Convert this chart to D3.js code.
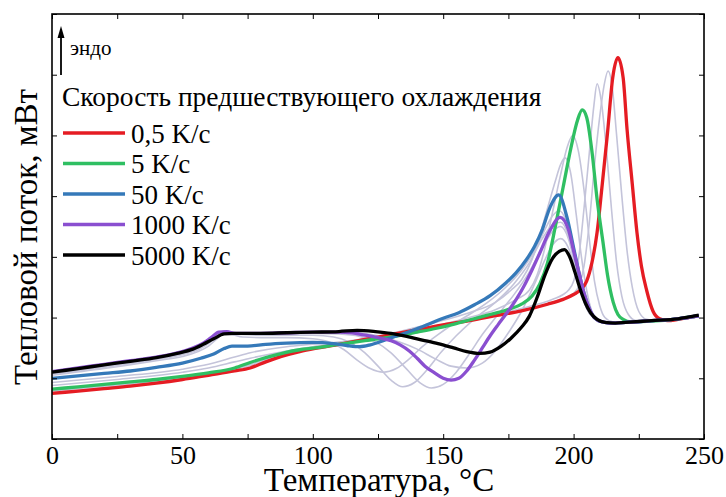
<!DOCTYPE html>
<html><head><meta charset="utf-8">
<script src="https://cdn.jsdelivr.net/npm/d3@7"></script>
<style>body{margin:0;background:#fff;} svg{display:block;}</style>
</head><body>
<svg id="c" width="726" height="497" font-family="Liberation Serif"></svg>
<script>
// ---- data (temperature °C, heat flow in arbitrary units) ----
const xTicks = [0, 50, 100, 150, 200, 250];
const xMinorTicks = [25, 75, 125, 175, 225];
const yTicks = [0, 1, 2, 3, 4, 5, 6, 7];
const legendTitle = "Скорость предшествующего охлаждения";
const seriesNames = ["0,5 K/c", "5 K/c", "50 K/c", "1000 K/c", "5000 K/c"];
const seriesColors = ["#e51c23", "#2fbf62", "#3579b9", "#8a4fd0", "#000000"];

const red = [[0,0.75],[10,0.79],[20,0.83],[30,0.87],[40,0.92],[50,0.98],[60,1.05],[70,1.12],[76,1.17],[82,1.27],[88,1.36],[95,1.44],[102,1.5],[110,1.56],[120,1.64],[130,1.72],[140,1.8],[150,1.88],[160,1.95],[170,2.03],[180,2.11],[190,2.22],[196,2.3],[200,2.38],[203,2.47],[205,2.6],[207,2.9],[209,3.4],[211,4.2],[213,5.04],[215,5.95],[217,6.28],[219,5.95],[220.5,5.1],[222.5,4.2],[224.3,3.4],[226,2.85],[228,2.45],[230.5,2.1],[233,1.98],[236,1.95],[240,1.97],[244,2.0],[248,2.03]];
const green = [[0,0.82],[10,0.86],[20,0.9],[30,0.94],[40,0.98],[50,1.03],[60,1.09],[70,1.17],[76,1.26],[82,1.34],[89,1.42],[95,1.47],[101,1.5],[110,1.56],[120,1.62],[127,1.66],[134,1.71],[140,1.76],[147,1.82],[153,1.88],[160,1.96],[167,2.04],[174,2.12],[180,2.22],[184,2.35],[187,2.55],[190,2.9],[193,3.5],[196,4.15],[199,4.8],[201.5,5.25],[203.3,5.42],[205,5.3],[207,4.75],[209,3.95],[211.4,3.2],[213,2.7],[215.2,2.25],[217,2.05],[219,1.97],[222,1.93],[230,1.94],[240,1.98],[248,2.03]];
const blue = [[0,1.0],[10,1.04],[20,1.08],[30,1.12],[40,1.18],[50,1.25],[57,1.33],[62,1.4],[66,1.49],[69,1.53],[75,1.53],[82,1.56],[90,1.58],[100,1.59],[108,1.57],[113,1.54],[118,1.52],[122,1.55],[127,1.62],[133,1.71],[142,1.85],[150,1.99],[156,2.08],[162,2.21],[168,2.36],[174,2.57],[178,2.74],[182,2.96],[185,3.17],[188,3.45],[191,3.82],[194.3,4.02],[197.4,3.66],[200,3.15],[202,2.75],[204,2.4],[206,2.15],[208,2.0],[211,1.93],[215,1.91],[220,1.92],[230,1.95],[240,1.98],[248,2.03]];
const purple = [[0,1.11],[10,1.17],[20,1.23],[30,1.29],[40,1.35],[48,1.42],[54,1.5],[58,1.58],[61,1.67],[64,1.76],[67,1.77],[70,1.74],[80,1.74],[90,1.75],[100,1.76],[110,1.76],[115,1.75],[120,1.71],[125,1.67],[130,1.62],[133.5,1.55],[137,1.45],[140,1.33],[143,1.2],[146.3,1.1],[150,1.0],[153,0.97],[156,1.0],[159,1.12],[162,1.3],[165,1.5],[168,1.7],[171,1.88],[174.3,2.07],[178,2.3],[181,2.52],[184,2.78],[187,3.06],[191,3.44],[194.8,3.65],[198,3.45],[200,3.1],[202,2.75],[204,2.4],[206,2.15],[208,2.0],[211,1.93],[215,1.91],[220,1.92],[230,1.95],[240,1.98],[248,2.03]];
const black = [[0,1.1],[10,1.16],[20,1.22],[30,1.28],[40,1.34],[48,1.41],[54,1.48],[58,1.56],[62,1.65],[66,1.73],[70,1.74],[80,1.74],[90,1.75],[100,1.76],[110,1.77],[117,1.79],[124,1.77],[130,1.74],[136,1.69],[142,1.63],[148,1.57],[154,1.5],[159,1.44],[164,1.41],[168,1.43],[172,1.52],[176,1.66],[180,1.84],[183,2.02],[186,2.33],[189,2.7],[192,2.98],[194.5,3.09],[196.5,3.12],[198.5,3.0],[200.5,2.75],[202.5,2.47],[204.5,2.24],[206.5,2.08],[209,1.97],[212,1.92],[216,1.91],[220,1.92],[230,1.95],[240,1.98],[248,2.04]];

// intermediate cooling rates (grey)
const grey1 = [[0,0.77],[25,0.87],[50,1.0],[70,1.14],[80,1.26],[90,1.39],[102,1.51],[120,1.65],[140,1.81],[160,1.96],[180,2.12],[195,2.3],[200,2.4],[202,2.52],[204,2.85],[206,3.55],[208,4.5],[210,5.3],[211.8,5.85],[213.2,6.06],[214.8,5.8],[216.5,5.0],[218.5,4.0],[220.5,3.1],[222.5,2.5],[225,2.1],[228,1.97],[232,1.95],[240,1.97],[248,2.03]];
const grey2 = [[0,0.79],[25,0.89],[50,1.01],[70,1.15],[80,1.28],[90,1.4],[102,1.51],[120,1.64],[140,1.79],[160,1.96],[180,2.15],[192,2.3],[196,2.38],[198,2.45],[200,2.6],[202,3.0],[204,3.8],[206,4.7],[207.8,5.5],[209,5.85],[210.5,5.6],[212.5,4.8],[214.5,3.8],[216.5,2.9],[218.5,2.35],[221,2.05],[224,1.95],[232,1.95],[240,1.97],[248,2.03]];
const grey3 = [[0,0.88],[25,0.98],[50,1.1],[60,1.17],[70,1.27],[76,1.33],[90,1.45],[100,1.52],[115,1.6],[130,1.7],[145,1.84],[160,2.0],[170,2.13],[178,2.3],[183,2.45],[186,2.7],[189,3.15],[192,3.75],[195,4.35],[197.5,4.8],[199.6,5.0],[201.8,4.75],[204,4.1],[206,3.3],[208,2.6],[210,2.2],[212,2.0],[215,1.93],[220,1.92],[230,1.95],[240,1.98],[248,2.03]];
const grey4 = [[0,0.93],[25,1.03],[50,1.15],[60,1.23],[70,1.35],[76,1.42],[90,1.52],[100,1.56],[115,1.62],[130,1.74],[145,1.9],[160,2.08],[170,2.25],[176,2.45],[180,2.62],[184,2.95],[187,3.35],[190,3.8],[193,4.25],[195,4.52],[196.7,4.63],[199,4.35],[201,3.7],[203,3.0],[205,2.45],[207,2.1],[209.5,1.95],[215,1.91],[220,1.92],[230,1.95],[240,1.98],[248,2.03]];
const grey5 = [[0,1.05],[20,1.16],[40,1.29],[50,1.36],[56,1.44],[60,1.53],[63,1.64],[66,1.73],[69,1.72],[73,1.68],[80,1.67],[90,1.67],[100,1.65],[106,1.6],[112,1.47],[117,1.3],[122,1.16],[127,1.1],[132,1.16],[137,1.32],[142,1.52],[148,1.72],[153,1.87],[160,2.05],[167,2.25],[174,2.5],[180,2.78],[185,3.1],[189,3.45],[192,3.68],[194.5,3.76],[197,3.6],[199.5,3.15],[201.5,2.7],[203.5,2.35],[205.5,2.12],[208,1.98],[211,1.92],[220,1.92],[230,1.95],[240,1.98],[248,2.03]];
const grey6 = [[0,1.07],[20,1.18],[40,1.31],[50,1.39],[56,1.47],[60,1.57],[63,1.68],[66,1.77],[69,1.75],[73,1.72],[80,1.71],[90,1.71],[100,1.71],[108,1.68],[114,1.6],[120,1.42],[125,1.2],[130,0.97],[134.5,0.86],[139,0.93],[144,1.15],[149,1.42],[155,1.7],[162,1.98],[170,2.25],[177,2.55],[183,2.9],[188,3.3],[192,3.53],[195,3.57],[198,3.35],[200.5,2.9],[202.5,2.5],[205,2.15],[208,1.98],[211,1.92],[220,1.92],[230,1.95],[240,1.98],[248,2.03]];
const grey7 = [[0,1.09],[20,1.2],[40,1.33],[50,1.41],[56,1.5],[60,1.6],[63,1.7],[66,1.78],[69,1.76],[73,1.74],[80,1.73],[90,1.73],[100,1.74],[110,1.73],[118,1.69],[124,1.6],[130,1.42],[136,1.15],[141,0.93],[145.5,0.84],[150,0.9],[155,1.1],[160,1.4],[165,1.72],[171,2.05],[177,2.37],[183,2.75],[188,3.15],[192,3.42],[195,3.5],[198,3.3],[200.5,2.88],[202.5,2.5],[205,2.15],[208,1.98],[211,1.92],[220,1.92],[230,1.95],[240,1.98],[248,2.03]];
const grey8 = [[0,1.1],[20,1.22],[40,1.34],[50,1.42],[56,1.5],[60,1.6],[63,1.69],[66,1.76],[70,1.75],[80,1.75],[100,1.75],[115,1.75],[125,1.7],[133,1.6],[140,1.48],[147,1.32],[153,1.2],[159,1.17],[165,1.25],[170,1.45],[175,1.75],[180,2.1],[185,2.55],[189,2.95],[192,3.2],[195,3.3],[198,3.15],[200.5,2.8],[203,2.4],[205.5,2.12],[208,1.98],[211,1.92],[220,1.92],[230,1.95],[240,1.98],[248,2.03]];

const greySeries = [grey1, grey2, grey3, grey4, grey5, grey6, grey7, grey8];
const mainSeries = [red, green, blue, purple, black];

// ---- layout ----
const FONT = "Liberation Serif";
const W = 726, H = 497;
const m = {l: 52, t: 14, r: 22, b: 58};
const svg = d3.select("#c");
const x = d3.scaleLinear().domain([0, 250]).range([m.l, W - m.r]);
const y = d3.scaleLinear().domain([0, 7]).range([H - m.b, m.t]);

svg.append("defs").append("clipPath").attr("id", "clip")
  .append("rect").attr("x", m.l).attr("y", m.t).attr("width", W - m.l - m.r).attr("height", H - m.t - m.b);

const line = d3.line().x(d => x(d[0])).y(d => y(d[1])).curve(d3.curveMonotoneX);
const plot = svg.append("g").attr("clip-path", "url(#clip)");
plot.selectAll("path.grey").data(greySeries).join("path").attr("class", "grey")
  .attr("d", line).attr("fill", "none").attr("stroke", "#c4c4da").attr("stroke-width", 1.6);
plot.selectAll("path.main").data(mainSeries).join("path").attr("class", "main")
  .attr("d", line).attr("fill", "none").attr("stroke", (d, i) => seriesColors[i]).attr("stroke-width", 3.3)
  .attr("stroke-linejoin", "round");

// ---- axes ----
const allX = xTicks.concat(xMinorTicks);
const gb = svg.append("g").attr("transform", `translate(0,${H - m.b})`)
  .call(d3.axisBottom(x).tickValues(allX).tickSize(-5).tickPadding(7).tickFormat(d => xTicks.includes(d) ? d : ""));
const gt = svg.append("g").attr("transform", `translate(0,${m.t})`)
  .call(d3.axisTop(x).tickValues(allX).tickSize(-5).tickFormat(""));
const gl = svg.append("g").attr("transform", `translate(${m.l},0)`)
  .call(d3.axisLeft(y).tickValues(yTicks).tickSize(-5).tickFormat(""));
const gr = svg.append("g").attr("transform", `translate(${W - m.r},0)`)
  .call(d3.axisRight(y).tickValues(yTicks).tickSize(-5).tickFormat(""));
[gb, gt, gl, gr].forEach(g => {
  g.attr("font-family", FONT);
  g.select(".domain").remove();
  g.selectAll(".tick line").attr("stroke", "#000").attr("stroke-width", 1);
});
gb.selectAll(".tick text").attr("font-size", 26).attr("font-family", FONT).attr("fill", "#000").attr("dy", "0.71em");
svg.append("rect").attr("x", m.l).attr("y", m.t).attr("width", W - m.l - m.r).attr("height", H - m.t - m.b)
  .attr("fill", "none").attr("stroke", "#000").attr("stroke-width", 1.6);

// axis titles
svg.append("text").attr("x", (m.l + W - m.r) / 2 + 1).attr("y", 491).attr("text-anchor", "middle")
  .attr("font-family", FONT).attr("font-size", 33).text("Температура, °C");
svg.append("text").attr("transform", "translate(37,237) rotate(-90)").attr("text-anchor", "middle")
  .attr("font-family", FONT).attr("font-size", 33).text("Тепловой поток, мВт");

// endo arrow
svg.append("line").attr("x1", 61).attr("x2", 61).attr("y1", 75).attr("y2", 36).attr("stroke", "#000").attr("stroke-width", 1.8);
svg.append("path").attr("d", "M61,26 L57.5,38 L64.5,38 Z").attr("fill", "#000");
svg.append("text").attr("x", 70).attr("y", 55).attr("font-family", FONT).attr("font-size", 21).text("эндо");

// legend
svg.append("text").attr("x", 62).attr("y", 106).attr("font-family", FONT).attr("font-size", 27.5).text(legendTitle);
const lg = svg.append("g");
seriesNames.forEach((n, i) => {
  const yy = 133 + i * 30.5;
  lg.append("line").attr("x1", 63).attr("x2", 125).attr("y1", yy).attr("y2", yy)
    .attr("stroke", seriesColors[i]).attr("stroke-width", 3.5);
  lg.append("text").attr("x", 131).attr("y", yy + 9.5).attr("font-family", FONT).attr("font-size", 27).text(n);
});
</script>
</body></html>
